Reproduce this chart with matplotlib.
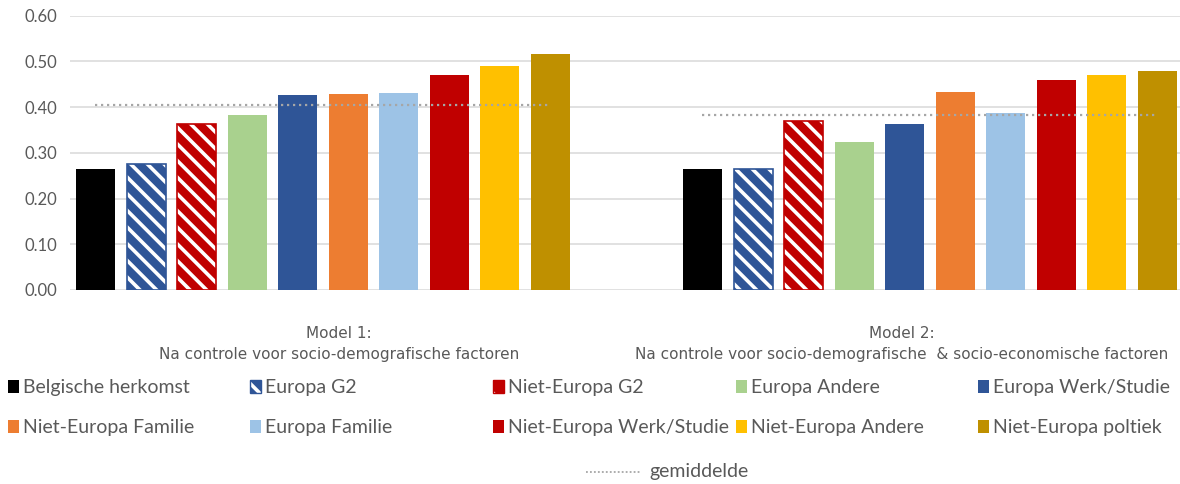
import numpy as np
import matplotlib
matplotlib.use("Agg")
import matplotlib.pyplot as plt
from matplotlib.patches import Rectangle
from matplotlib.lines import Line2D

# data
models = ["Model 1:\nNa controle voor socio-demografische factoren",
          "Model 2:\nNa controle voor socio-demografische  & socio-economische factoren"]
series = ["Belgische herkomst", "Europa G2", "Niet-Europa G2", "Europa Andere",
          "Europa Werk/Studie", "Niet-Europa Familie", "Europa Familie",
          "Niet-Europa Werk/Studie", "Niet-Europa Andere", "Niet-Europa poltiek"]
model1 = [0.265, 0.276, 0.364, 0.383, 0.427, 0.429, 0.431, 0.470, 0.490, 0.516]
model2 = [0.265, 0.264, 0.370, 0.324, 0.363, 0.433, 0.387, 0.460, 0.471, 0.479]
gemiddelde = [0.405, 0.382]

colors = ["#000000", "#2F5597", "#C00000", "#A9D18E", "#2F5597", "#ED7D31",
          "#9DC3E6", "#C00000", "#FFC000", "#BF9000"]
hatched = [False, True, True, False, False, False, False, False, False, False]

plt.rcParams["hatch.linewidth"] = 2.6
W, H = 1180, 484
fig = plt.figure(figsize=(W / 100, H / 100), dpi=100)

# axes placed in pixel terms
ax_l, ax_r, ax_top, ax_bot = 70, 1180, 15.7, 290
ax = fig.add_axes([ax_l / W, 1 - ax_bot / H, (ax_r - ax_l) / W, (ax_bot - ax_top) / H])

cat_w = 563.0                      # px per category
pitch = 50.56 / cat_w
bw = 39.0 / cat_w
group_shift = [-16 / cat_w, 28 / cat_w]
ax.set_xlim((ax_l - 339) / cat_w, (ax_r - 339) / cat_w)
ax.set_ylim(0, 0.6)

values = np.array([model1, model2])
n = len(series)
offsets = (np.arange(n) - (n - 1) / 2) * pitch

for g in range(2):
    xs = g + group_shift[g] + offsets
    for i in range(n):
        if hatched[i]:
            ax.bar(xs[i], values[g, i], bw, color=colors[i], edgecolor="white",
                   hatch="\\\\", linewidth=0, zorder=3)
            ax.bar(xs[i], values[g, i], bw, fill=False, edgecolor=colors[i],
                   linewidth=1.2, zorder=4)
        else:
            ax.bar(xs[i], values[g, i], bw, color=colors[i], linewidth=0, zorder=3)
    ax.plot([xs[0], xs[-1]], [gemiddelde[g]] * 2, color="#A6A6A6", lw=1.6,
            linestyle=(0, (1, 1.7)), zorder=5)

ax.set_yticks(np.arange(0, 0.61, 0.1))
ax.yaxis.set_major_formatter(matplotlib.ticker.FormatStrFormatter("%.2f"))
ax.grid(axis="y", color="#D9D9D9", lw=1.1, zorder=0)
ax.set_axisbelow(True)
for s in ax.spines.values():
    s.set_visible(False)
ax.tick_params(axis="y", length=0, pad=9, labelsize=12, labelcolor="#595959")
for t in ax.get_yticklabels():
    t.set_family("Lato")
ax.set_xticks([0, 1])
ax.set_xticklabels(models, fontsize=11, color="#595959", linespacing=1.45)
ax.tick_params(axis="x", length=0, pad=26)

# legend drawn manually on the figure
leg_x = [8, 250, 493, 736, 978]
leg_y = [387, 427]
for i, name in enumerate(series):
    x0 = leg_x[i % 5]
    y0 = leg_y[i // 5]
    if hatched[i]:
        fig.add_artist(Rectangle((x0 / W, 1 - (y0 + 6) / H), 11 / W, 13 / H,
                                 transform=fig.transFigure, facecolor=colors[i],
                                 edgecolor="white", hatch="\\", linewidth=0))
        fig.add_artist(Rectangle((x0 / W, 1 - (y0 + 6) / H), 11 / W, 13 / H,
                                 transform=fig.transFigure, fill=False,
                                 edgecolor=colors[i], linewidth=1))
    else:
        fig.add_artist(Rectangle((x0 / W, 1 - (y0 + 6) / H), 11 / W, 13 / H,
                                 transform=fig.transFigure, facecolor=colors[i],
                                 linewidth=0))
    fig.text((x0 + 15) / W, 1 - y0 / H, name, fontsize=14, color="#595959",
             family="Lato", va="center", ha="left")

fig.add_artist(Line2D([586 / W, 640 / W], [1 - 472 / H] * 2, transform=fig.transFigure,
                      color="#A6A6A6", lw=1.3, linestyle=(0, (1, 1.2))))
fig.text(649 / W, 1 - 472 / H, "gemiddelde", fontsize=14, color="#595959",
         family="Lato", va="center", ha="left")

fig.savefig("out.png", dpi=100, facecolor="white")
